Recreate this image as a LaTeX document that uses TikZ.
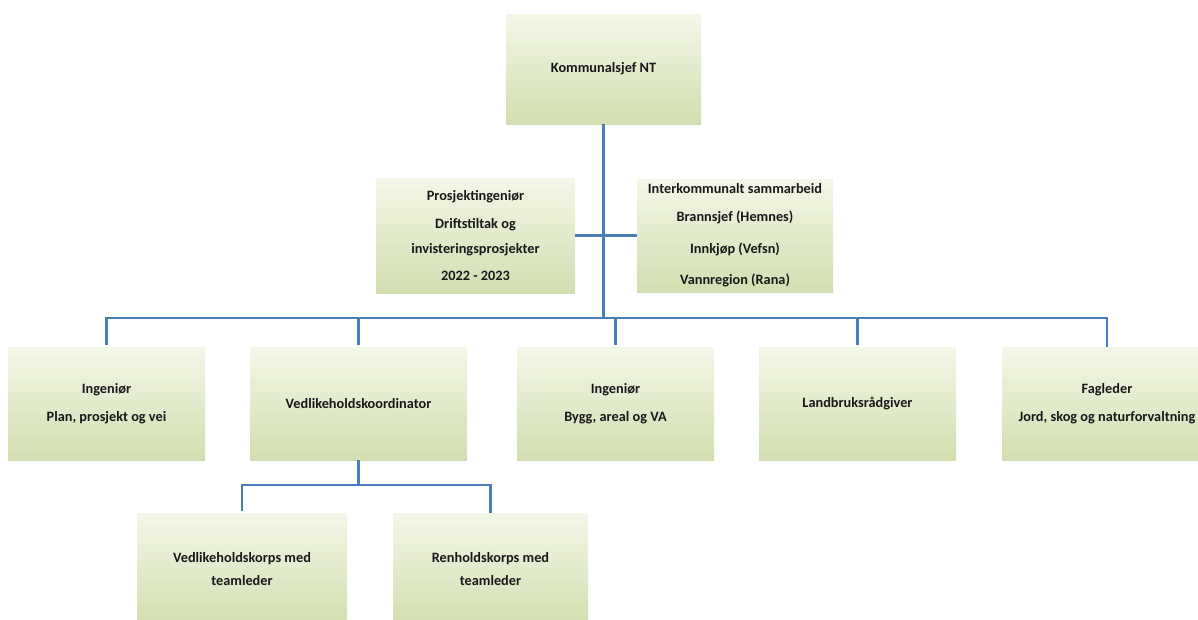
\documentclass[tikz,border=0pt]{standalone}
\usepackage{fontspec}
\setmainfont{Carlito}
\usetikzlibrary{positioning}
\definecolor{boxtop}{HTML}{F3F7E8}
\definecolor{boxbot}{HTML}{D2DEB0}
\definecolor{linkblue}{HTML}{4A7EBB}

\begin{document}
\begin{tikzpicture}[x=1pt, y=-1pt,
        post/.style={rectangle, top color=boxtop, bottom color=boxbot, minimum width=197pt, minimum height=113pt,
            inner sep=0pt, outer sep=0pt, align=center, text=black!90, font=\fontsize{14.3}{28}\selectfont\bfseries},
        link/.style={draw=linkblue, line width=2.6pt}]
        \useasboundingbox (0,0) rectangle (1198,619);
        \clip (0,0) rectangle (1198,619);

        \node[post, minimum width=195pt, minimum height=110pt] (k_0) at (603.5,69) {Kommunalsjef NT};
        \node[post, minimum width=199pt, minimum height=115pt] (p_1) at (475.5,235.5) {Prosjektingeniør\\ Driftstiltak og\\[-3pt] invisteringsprosjekter\\[-1pt] 2022 - 2023};
        \node[post, minimum width=196pt] (s_1) [right = 62pt of p_1] {Interkommunalt sammarbeid\\ Brannsjef (Hemnes)\\[4pt] Innkjøp (Vefsn)\\[3pt] Vannregion (Rana)};

        \node[post] (i_1) at (106.5,403.5) {Ingeniør\\ Plan, prosjekt og vei};
        \node[post, minimum width=217pt] (v_1) [right = 45pt of i_1] {Vedlikeholdskoordinator};
        \node[post] (i_2) [right = 50pt of v_1] {Ingeniør\\ Bygg, areal og VA};
        \node[post] (l_1) [right = 45pt of i_2] {Landbruksrådgiver};
        \node[post, minimum width=210pt] (f_1) [right = 46pt of l_1] {Fagleder\\ Jord, skog og naturforvaltning};

        \node[post, minimum width=210pt] (c_1) at (242,569.5) {Vedlikeholdskorps med\\[-5pt] teamleder};
        \node[post, minimum width=195pt] (r_1) [right = 46pt of c_1] {Renholdskorps med\\[-5pt] teamleder};

        \coordinate (bus) at (603.5,318);
        \coordinate (subbus) at (358.5,485);

        %chief down to the bus
        \draw[link] (k_0.south) -- (bus);

        %staff line across
        \draw[link] (p_1.east) -- (p_1.east -| s_1.west);

        %bus out to the row
        \draw[link, shorten <=2pt] (i_1.north) -- (i_1 |- bus) -- (f_1 |- bus) -- (f_1.north);
        \foreach \n in {v_1, i_2, l_1}
            \draw[link, shorten <=2pt] (\n.north) -- (\n |- bus);

        %coordinator to the two teams
        \draw[link] (v_1.south) -- (subbus);
        \draw[link, shorten <=2pt] (c_1.north) -- (c_1 |- subbus) -- (r_1 |- subbus) -- (r_1.north);
\end{tikzpicture}
\end{document}
